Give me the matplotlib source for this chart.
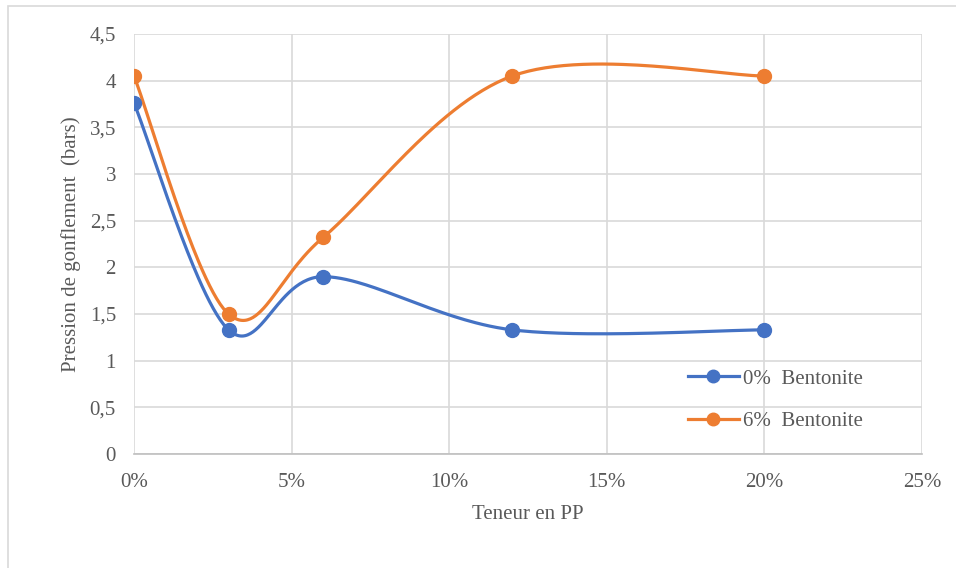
import numpy as np
import matplotlib
matplotlib.use("Agg")
import matplotlib.pyplot as plt
from matplotlib.patches import Rectangle
from matplotlib.ticker import FuncFormatter

plt.rcParams['font.family'] = ['Liberation Serif', 'DejaVu Serif']

# ---------- données ----------
teneur_pp = [0, 3, 6, 12, 20]                   # %
bento_0 = [3.76, 1.33, 1.90, 1.33, 1.33]        # bars
bento_6 = [4.05, 1.50, 2.32, 4.05, 4.05]        # bars
labels = ['0%  Bentonite', '6%  Bentonite']
colors = ['#4472C4', '#ED7D31']
grid_c = '#D9D9D9'
txt_c = '#595959'


# ---------- lissage type Excel (Bezier Catmull-Rom) ----------
def smooth(x, y, n=60):
    x = np.asarray(x, float)
    y = np.asarray(y, float)
    xs, ys = [], []
    for i in range(len(x) - 1):
        i0 = max(i - 1, 0)
        i3 = min(i + 2, len(x) - 1)
        c1x = x[i] + (x[i + 1] - x[i0]) / 6
        c1y = y[i] + (y[i + 1] - y[i0]) / 6
        c2x = x[i + 1] - (x[i3] - x[i]) / 6
        c2y = y[i + 1] - (y[i3] - y[i]) / 6
        t = np.linspace(0, 1, n)
        a, b, c, d = (1 - t) ** 3, 3 * (1 - t) ** 2 * t, 3 * (1 - t) * t ** 2, t ** 3
        xs.append(a * x[i] + b * c1x + c * c2x + d * x[i + 1])
        ys.append(a * y[i] + b * c1y + c * c2y + d * y[i + 1])
    return np.concatenate(xs), np.concatenate(ys)


fig = plt.figure(figsize=(9.56, 5.68), dpi=100)
fig.patches.append(Rectangle((8 / 956, -0.1), 1.2, (568 - 6) / 568 + 0.1,
                             transform=fig.transFigure, fill=False,
                             edgecolor=grid_c, linewidth=1.2))
ax = fig.add_axes([134 / 956, 114 / 568, 788 / 956, 420 / 568])

for yv, lab, col in zip([bento_0, bento_6], labels, colors):
    sx, sy = smooth(teneur_pp, yv)
    ax.plot(sx, sy, color=col, linewidth=2.3, zorder=3)
    ax.plot(teneur_pp, yv, 'o', color=col, markersize=10, zorder=4)
    ax.plot([], [], '-o', color=col, linewidth=2.3, markersize=9, label=lab)

ax.set_xlim(0, 25)
ax.set_ylim(0, 4.5)
ax.set_xticks(np.arange(0, 26, 5))
ax.set_yticks(np.arange(0, 4.51, 0.5))
ax.xaxis.set_major_formatter(FuncFormatter(lambda v, p: f'{int(v)}%'))
ax.yaxis.set_major_formatter(FuncFormatter(lambda v, p: f'{v:g}'.replace('.', ',')))
ax.grid(True, color=grid_c, linewidth=1.2)
ax.set_axisbelow(True)
for s in ['top', 'right', 'left']:
    ax.spines[s].set_visible(False)
ax.spines['bottom'].set_color('#BFBFBF')
ax.spines['bottom'].set_linewidth(1.2)
ax.tick_params(length=0, labelsize=15, colors=txt_c)
ax.tick_params(axis='y', pad=13)
ax.tick_params(axis='x', pad=14)

ax.set_xlabel('Teneur en PP', fontsize=15, color=txt_c, labelpad=9)
ax.set_ylabel('Pression de gonflement  (bars)', fontsize=15, color=txt_c, labelpad=6)

leg = ax.legend(loc='upper left', bbox_to_anchor=(0.692, 0.222), frameon=False,
                fontsize=15, labelspacing=1.1, handlelength=2.45,
                handletextpad=0.2, borderaxespad=0)
for t in leg.get_texts():
    t.set_color(txt_c)

fig.savefig('out.png', dpi=100)
